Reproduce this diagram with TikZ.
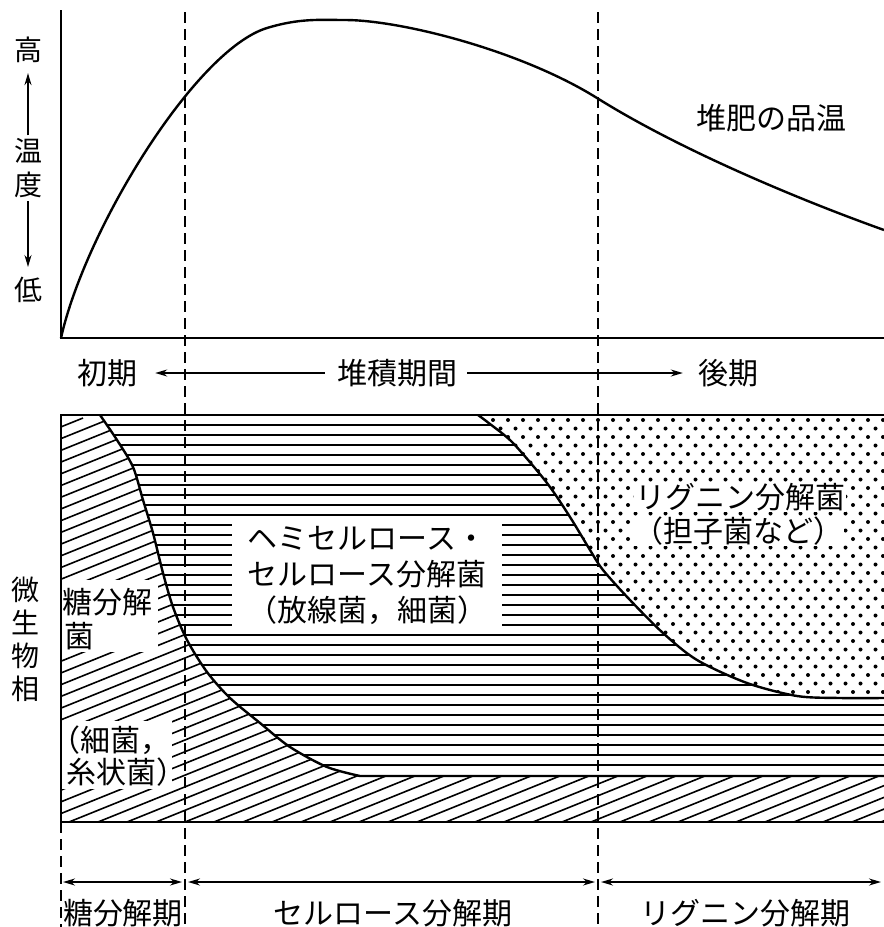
\documentclass[tikz,border=0pt]{standalone}
\usepackage{fontspec}
\setmainfont{Noto Sans CJK JP}
\usetikzlibrary{arrows.meta}
\begin{document}
\begin{tikzpicture}[x=1pt,y=-1pt,
  lbl/.style={inner sep=0pt, font=\fontsize{30}{34}\selectfont},
  ylbl/.style={inner sep=0pt, font=\fontsize{28}{30}\selectfont},
  curve/.style={line width=2.4pt, line join=round},
  axis/.style={line width=2pt},
  hatch/.style={line width=1.6pt},
  vdash/.style={line width=2pt, dash pattern=on 11pt off 6pt},
  arr/.style={line width=1.6pt, -{Stealth[length=12pt,width=7pt]}},
  darr/.style={line width=1.6pt, {Stealth[length=12pt,width=7pt]}-{Stealth[length=12pt,width=7pt]}},
  wbox/.style={fill=white, draw=none},
]
\useasboundingbox (0,0) rectangle (884,927);
\fill[white] (0,0) rectangle (884,927);

% ---------- upper chart ----------
\coordinate (O) at (61,338);
\coordinate (ytop) at (61,10);
\coordinate (xend) at (884,338);
\coordinate (tpeak) at (345,20);
\coordinate (tend) at (884,230);
\draw[axis] (ytop) -- (O) -- (xend);
\draw[curve] (O) .. controls (85,230) and (195,50) .. (267,28)
  .. controls (300,18) and (320,20) .. (tpeak)
  .. controls (400,20) and (520,50) .. (597,98)
  .. controls (680,150) and (800,200) .. (tend);

\node[ylbl] (high) at (28,50) {高};
\node[ylbl] (wen) at (28,151) {温};
\node[ylbl] (du) at (28,185) {度};
\node[ylbl] (low) at (28,290) {低};
\draw[arr, shorten <=3pt, shorten >=10pt] (wen.north) -- (high.south);
\draw[arr, shorten <=3pt, shorten >=10pt] (du.south) -- (low.north);

\node[lbl] (hinon) at (771,118) {堆肥の品温};

% ---------- period row ----------
\node[lbl] (early) at (107,373) {初期};
\node[lbl] (period) at (397,373) {堆積期間};
\node[lbl] (late) at (728,373) {後期};
\draw[arr, shorten <=12pt, shorten >=18pt] (period.west) -- (early.east);
\draw[arr, shorten <=10pt, shorten >=15pt] (period.east) -- (late.west);

% ---------- lower box: horizontal hatch ----------
\begin{scope}
  \clip (61,415) rectangle (884,777);
  \foreach \y in {425,435,...,765} \draw[hatch] (61,\y) -- (884,\y);
\end{scope}

% sugar region: diagonal hatch
\begin{scope}
  \fill[white] (61,415) -- plot[smooth] coordinates {(100,415) (117,440) (133,467) (143,500) (153,533) (163,573) (173,607) (187,640) (207,672) (230,698) (260,723) (290,747) (327,767) (360,776)} -- (884,776) -- (884,822) -- (61,822) -- cycle;
  \clip (61,415) -- plot[smooth] coordinates {(100,415) (117,440) (133,467) (143,500) (153,533) (163,573) (173,607) (187,640) (207,672) (230,698) (260,723) (290,747) (327,767) (360,776)} -- (884,776) -- (884,822) -- (61,822) -- cycle;
  \foreach \b in {-946,-917,...,900} \draw[hatch] (\b,822) -- ++(1000,-404);
\end{scope}

% lignin region: dots
\begin{scope}
  \fill[white] (478,415) -- plot[smooth] coordinates {(478,415) (490,424) (513,443) (547,483) (570,517) (590,550) (603,570) (630,600) (663,633) (697,660) (747,683) (797,696) (840,698) (884,698)} -- (884,415) -- cycle;
  \clip (478,415) -- plot[smooth] coordinates {(478,415) (490,424) (513,443) (547,483) (570,517) (590,550) (603,570) (630,600) (663,633) (697,660) (747,683) (797,696) (840,698) (884,698)} -- (884,415) -- cycle;
  \foreach \j in {0,...,34} {
    \pgfmathsetmacro\off{mod(\j,2)*7.5}
    \foreach \i in {0,...,28} \fill (478+\off+15*\i, 420+8.5*\j) circle (2.0);
  }
\end{scope}

% boundary curves
\draw[curve] plot[smooth] coordinates {(100,415) (117,440) (133,467) (143,500) (153,533) (163,573) (173,607) (187,640) (207,672) (230,698) (260,723) (290,747) (327,767) (360,776)} -- (884,776);
\draw[curve] plot[smooth] coordinates {(478,415) (490,424) (513,443) (547,483) (570,517) (590,550) (603,570) (630,600) (663,633) (697,660) (747,683) (797,696) (840,698) (884,698)};

% box border
\draw[axis] (884,415) -- (61,415) -- (61,822) -- (884,822);

% texts inside box
\node[lbl, wbox, minimum width=270pt, minimum height=108pt, align=center,
      font=\fontsize{30}{36}\selectfont] (hemi) at (367,576) {ヘミセルロース・\\セルロース分解菌\\（放線菌，細菌）};

\fill[white] (62,580) rectangle (158,652);
\node[lbl, anchor=west] (sug1) at (62,602) {糖分解};
\node[lbl] (sug2) at (79,636) {菌};
\fill[white] (62,721) rectangle (172,789);
\node[lbl, anchor=west] (sug3) at (50,740) {（細菌，};
\node[lbl, anchor=west] (sug4) at (66,772) {糸状菌）};

\node[lbl, fill=white, inner sep=1pt] (lig1) at (740,497) {リグニン分解菌};
\node[lbl, fill=white, inner sep=1pt] (lig2) at (738,531) {（担子菌など）};

\node[align=center, inner sep=0pt, font=\fontsize{28}{33}\selectfont] (micro) at (25,639) {微\\生\\物\\相};

% dashed verticals
\coordinate (d1t) at (185,12);
\coordinate (d1b) at (185,927);
\coordinate (d2t) at (598,12);
\coordinate (d2b) at (598,927);
\coordinate (d0t) at (61,822);
\coordinate (d0b) at (61,927);
\draw[vdash] (d1t) -- (d1b);
\draw[vdash] (d2t) -- (d2b);
\draw[vdash] (d0t) -- (d0b);

% bottom arrows
\coordinate (b0) at (61,882);
\coordinate (b1) at (185,882);
\coordinate (b2) at (598,882);
\coordinate (b3) at (884,882);
\draw[darr, shorten <=2pt, shorten >=3pt] (b0) -- (b1);
\draw[darr, shorten <=3pt, shorten >=3pt] (b1) -- (b2);
\draw[darr, shorten <=3pt, shorten >=3pt] (b2) -- (b3);

\node[lbl] (ph1) at (123,913) {糖分解期};
\node[lbl] (ph2) at (393,913) {セルロース分解期};
\node[lbl] (ph3) at (745,913) {リグニン分解期};
\end{tikzpicture}
\end{document}
